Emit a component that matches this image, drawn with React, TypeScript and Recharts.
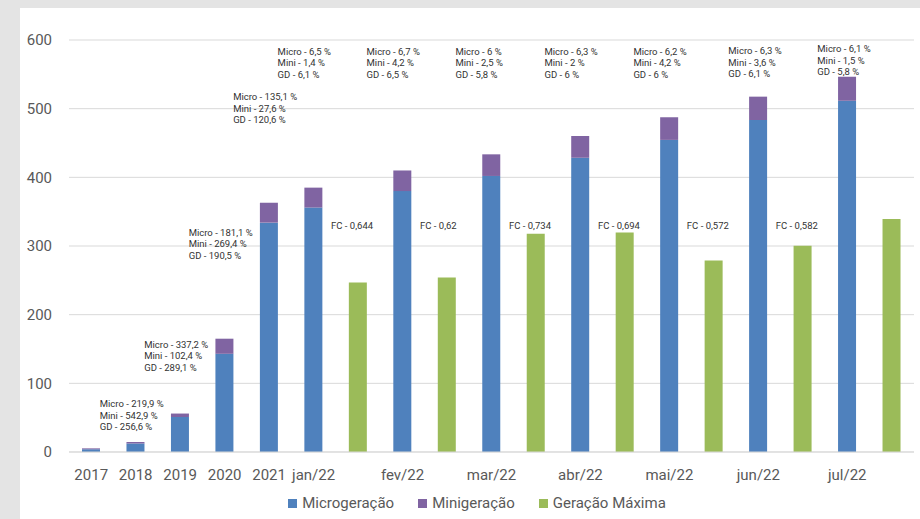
import React from 'react'
import { BarChart, Bar, XAxis, YAxis, CartesianGrid, Legend, ReferenceDot } from 'recharts'

const PERIODS = ['2017', '2018', '2019', '2020', '2021', 'jan/22', 'fev/22', 'mar/22', 'abr/22', 'mai/22', 'jun/22', 'jul/22']
const MICRO = [4, 12.5, 51, 143, 334, 356, 380, 402, 428.5, 454.5, 483.5, 511.5]
const MINI = [1.3, 2, 5, 22, 29, 29, 30, 31.5, 31.7, 33, 34, 35]
// Geração Máxima only exists for the 2022 months
const GERACAO_MAX = [null, null, null, null, null, 247, 254, 318, 319.5, 279, 300.5, 339.5]
const FC = [null, null, null, null, null, '0,644', '0,62', '0,734', '0,694', '0,572', '0,582', null]

const NOTE_MICRO = [null, '219,9', '337,2', '181,1', '135,1', '6,5', '6,7', '6', '6,3', '6,2', '6,3', '6,1']
const NOTE_MINI = [null, '542,9', '102,4', '269,4', '27,6', '1,4', '4,2', '2,5', '2', '4,2', '3,6', '1,5']
const NOTE_GD = [null, '256,6', '289,1', '190,5', '120,6', '6,1', '6,5', '5,8', '6', '6', '6,1', '5,8']
// height (in axis units) where each growth note starts
const NOTE_LEVEL = [null, 70, 157, 320, 517, 583, 583, 583, 583, 583, 584, 587]
const FC_LEVEL = 330

const Y_TICKS = [0, 100, 200, 300, 400, 500, 600]
const SERIES_ORDER = ['Microgeração', 'Minigeração', 'Geração Máxima']

const BLUE = '#4f81bd'
const PURPLE = '#8064a2'
const GREEN = '#9bbb59'
const GREY_TEXT = '#595959'

const GM = ' GM'

const rows = PERIODS.flatMap((p, i) => {
  const r: any[] = [{ key: p, micro: MICRO[i], mini: MINI[i], gmax: 0 }]
  if (GERACAO_MAX[i] != null) r.push({ key: p + GM, micro: 0, mini: 0, gmax: GERACAO_MAX[i] })
  return r
})

function NoteText(props: any) {
  const vb = props.viewBox ?? {}
  const x = (vb.x ?? props.x) + (props.dx ?? 0)
  const y = vb.y ?? props.y
  return (
    <text x={x} y={y} fontSize={9.5} fill="#333" textAnchor="start">
      {props.lines.map((l: string, i: number) => (
        <tspan key={i} x={x} dy={i === 0 ? '0.35em' : 11.5}>{l}</tspan>
      ))}
    </text>
  )
}

function LegendContent({ payload }: any) {
  const items = [...(payload ?? [])].sort(
    (a: any, b: any) => SERIES_ORDER.indexOf(a.value) - SERIES_ORDER.indexOf(b.value)
  )
  return (
    <div style={{ display: 'flex', justifyContent: 'center', gap: 24, fontSize: 15, color: GREY_TEXT }}>
      {items.map((e: any) => (
        <span key={e.value} style={{ display: 'flex', alignItems: 'center', gap: 5 }}>
          <span style={{ width: 9, height: 9, background: e.color, display: 'inline-block' }} />
          {e.value}
        </span>
      ))}
    </div>
  )
}

export default function App() {
  return (
    <div style={{ position: 'absolute', left: 0, top: 0, width: 920, height: 519, background: '#e4e4e4', overflow: 'hidden', fontFamily: 'Roboto, sans-serif' }}>
      <div style={{ position: 'absolute', left: 20, top: 8, width: 900, height: 511, background: '#fff' }} />
      <div style={{ position: 'absolute', left: 0, top: 0 }}>
        <BarChart width={920} height={519} data={rows} margin={{ top: 40, right: 6, left: 0, bottom: 37 }}>
          <CartesianGrid vertical={false} stroke="#d9d9d9" />
          <XAxis
            dataKey="key"
            interval={0}
            height={30}
            tickLine={false}
            tickSize={0}
            tickMargin={17}
            axisLine={{ stroke: '#d9d9d9' }}
            tick={{ fontSize: 15, fill: GREY_TEXT }}
            tickFormatter={(v: string) => (v.endsWith(GM) ? '' : v)}
          />
          <YAxis
            width={69}
            domain={[0, 600]}
            ticks={Y_TICKS}
            axisLine={false}
            tickLine={false}
            tickSize={0}
            tickMargin={17}
            tick={{ fontSize: 15, fill: GREY_TEXT }}
          />
          <Bar dataKey="micro" name="Microgeração" stackId="s" fill={BLUE} barSize={18} isAnimationActive={false} />
          <Bar dataKey="mini" name="Minigeração" stackId="s" fill={PURPLE} barSize={18} isAnimationActive={false} />
          <Bar dataKey="gmax" name="Geração Máxima" stackId="s" fill={GREEN} barSize={18} isAnimationActive={false} />
          {PERIODS.map((p, i) =>
            NOTE_LEVEL[i] == null ? null : (
              <ReferenceDot
                key={'n' + p}
                x={p}
                y={NOTE_LEVEL[i] as number}
                r={0}
                fill="none"
                stroke="none"
                label={(props: any) => (
                  <NoteText
                    {...props}
                    dx={i >= 10 ? -30 : -36}
                    lines={[`Micro - ${NOTE_MICRO[i]} %`, `Mini - ${NOTE_MINI[i]} %`, `GD - ${NOTE_GD[i]} %`]}
                  />
                )}
              />
            )
          )}
          {PERIODS.map((p, i) =>
            FC[i] == null ? null : (
              <ReferenceDot
                key={'fc' + p}
                x={p + GM}
                y={FC_LEVEL}
                r={0}
                fill="none"
                stroke="none"
                label={(props: any) => <NoteText {...props} dx={-27} lines={[`FC - ${FC[i]}`]} />}
              />
            )
          )}
          <Legend
            verticalAlign="middle"
            align="center"
            layout="horizontal"
            wrapperStyle={{ top: 494, left: 34, width: 886 }}
            content={<LegendContent />}
          />
        </BarChart>
      </div>
    </div>
  )
}
